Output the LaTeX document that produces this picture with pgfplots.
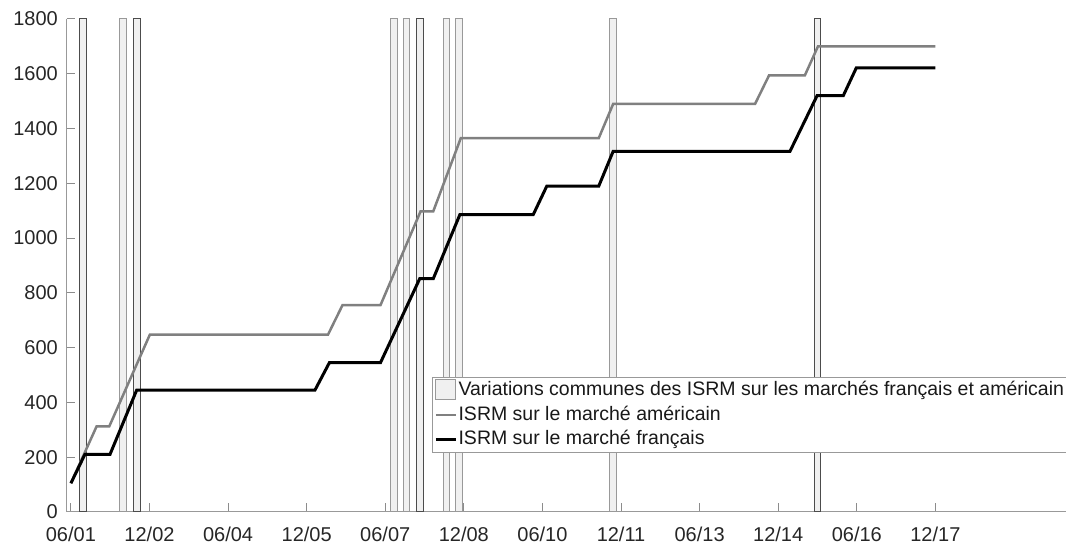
\documentclass[border=0pt]{standalone}
\usepackage{fontspec}
\setmainfont{Liberation Sans}
\usepackage{pgfplots}
\pgfplotsset{compat=1.18}

% x = months since Jan 2001 (06/01 = 5)
\begin{document}
\begin{tikzpicture}
\begin{axis}[
  at={(0,0)}, anchor=south west,
  scale only axis,
  width=399.7pt, height=197.2pt,
  xmin=4.04, xmax=232.9,
  ymin=0, ymax=1800,
  axis x line*=bottom, axis y line*=left,
  axis line style={draw=black!40, line width=0.4pt},
  tick align=inside,
  major tick length=3.5pt,
  tick style={draw=black!45, line width=0.4pt},
  xtick={5,23,41,59,77,95,113,131,149,167,185,203},
  xticklabels={06/01,12/02,06/04,12/05,06/07,12/08,06/10,12/11,06/13,12/14,06/16,12/17},
  ytick={0,200,...,1800},
  /pgf/number format/assume math mode=true,
  /pgf/number format/1000 sep={},
  tick label style={font=\fontsize{8}{9.6}\selectfont, text=black!85},
  xticklabel style={yshift=-2.4pt},
  legend style={at={(0.3659,0.2744)}, anchor=north west,
    draw=black!40, line width=0.4pt, fill=white,
    font=\fontsize{7.8}{9.3}\selectfont, text=black!90,
    inner xsep=0.6pt, inner ysep=0.4pt, row sep=0pt,
    nodes={inner xsep=0.5pt, inner ysep=1.1pt, text height=5.9pt, text depth=1.7pt}},
  legend cell align=left,
]
% common variations (bars)
\addplot[ybar, bar width=1.5, bar shift=0pt, fill=black!6, draw=black!40, line width=0.4pt,
  legend image code/.code={\draw[fill=black!6, draw=black!40, line width=0.4pt] (0pt,-3.8pt) rectangle (8pt,4.2pt);}]
  coordinates {(16.9,1800) (79.0,1800) (81.9,1800) (91.0,1800) (93.9,1800) (129.1,1800)};
\addplot[ybar, bar width=1.5, bar shift=0pt, fill=black!6, draw=black!70, line width=0.4pt, forget plot]
  coordinates {(7.8,1800) (20.1,1800) (84.9,1800) (176.0,1800)};
% US market
\addplot[color=black!50, line width=1.0pt,
  legend image code/.code={\draw[black!50, line width=1.0pt] (0pt,0pt) -- (8pt,0pt);}]
  coordinates {(5,105) (10.9,313) (13.8,313) (23.1,648) (63.9,648) (67.2,755) (75.9,755)
    (85.1,1098) (88.0,1098) (94.3,1365) (125.9,1365) (129.2,1490) (161.7,1490)
    (164.9,1594) (173.1,1594) (176.1,1700) (203,1700)};
% French market
\addplot[color=black, line width=1.2pt,
  legend image code/.code={\draw[black, line width=1.2pt] (0pt,0pt) -- (8pt,0pt);}]
  coordinates {(5,105) (8.2,210) (13.95,210) (20.07,445) (60.9,445) (64.2,545) (75.9,545)
    (84.9,852) (88.0,852) (94.1,1086) (110.9,1086) (114.0,1190) (125.9,1190)
    (129.2,1317) (169.7,1317) (175.9,1520) (181.9,1520) (184.9,1622) (203,1622)};
\legend{Variations communes des ISRM sur les marchés français et américain\hspace*{6pt},
  ISRM sur le marché américain, ISRM sur le marché français}
\end{axis}
\pgfresetboundingbox
\path[use as bounding box] (-26.68pt,-12pt) rectangle (399.72pt,204.8pt);
\end{tikzpicture}
\end{document}
